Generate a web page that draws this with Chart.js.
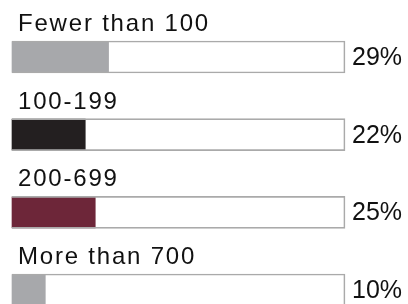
<!DOCTYPE html>
<html>
<head>
<meta charset="utf-8">
<script src="https://cdn.jsdelivr.net/npm/chart.js@4"></script>
<style>
  html, body { margin: 0; padding: 0; background: #fff; }
  #wrap { width: 408px; height: 304px; }
</style>
</head>
<body>
<div id="wrap"><canvas id="bar-chart"></canvas></div>
<script>
const categories = ["Fewer than 100", "100-199", "200-699", "More than 700"];
const percents = [29, 22, 25, 10];
const trackMax = [100, 100, 100, 100];
const barColors = ["#a7a8ab", "#231f20", "#6d2639", "#a7a8ab"];

// draws the category name above each bar and the percentage to its right
const barLabels = {
  id: 'barLabels',
  afterDatasetsDraw(chart) {
    const ctx = chart.ctx;
    const x = chart.scales.x;
    const y = chart.scales.y;
    ctx.save();
    ctx.fillStyle = '#111';
    categories.forEach((name, i) => {
      const cy = y.getPixelForValue(i);
      ctx.font = '24px "Liberation Sans", Arial, sans-serif';
      ctx.letterSpacing = '1.8px';
      ctx.textAlign = 'left';
      ctx.textBaseline = 'alphabetic';
      ctx.fillText(name, x.left + 6, cy - 26);
      ctx.font = '25px "Liberation Sans", Arial, sans-serif';
      ctx.letterSpacing = '0px';
      ctx.textBaseline = 'middle';
      ctx.fillText(percents[i] + '%', x.getPixelForValue(100) + 7, cy + 1);
    });
    ctx.restore();
  }
};

new Chart(document.getElementById("bar-chart"), {
  type: 'bar',
  data: {
    labels: categories,
    datasets: [{
      label: 'value',
      data: percents,
      backgroundColor: barColors,
      barThickness: 31,
      grouped: false,
      clip: false,
      order: 2
    }, {
      label: 'track',
      data: trackMax,
      backgroundColor: 'rgba(0,0,0,0)',
      borderColor: '#aaaaaa',
      borderWidth: 1,
      barThickness: 32,
      grouped: false,
      clip: false,
      order: 1
    }]
  },
  options: {
    indexAxis: 'y',
    responsive: true,
    maintainAspectRatio: false,
    animation: false,
    layout: {
      padding: { left: 12, right: 63, top: 57, bottom: 14 }
    },
    scales: {
      x: { display: false, min: 0, max: 100 },
      y: { display: false, offset: false }
    },
    plugins: {
      legend: { display: false },
      tooltip: { enabled: false }
    }
  },
  plugins: [barLabels]
});
</script>
</body>
</html>
